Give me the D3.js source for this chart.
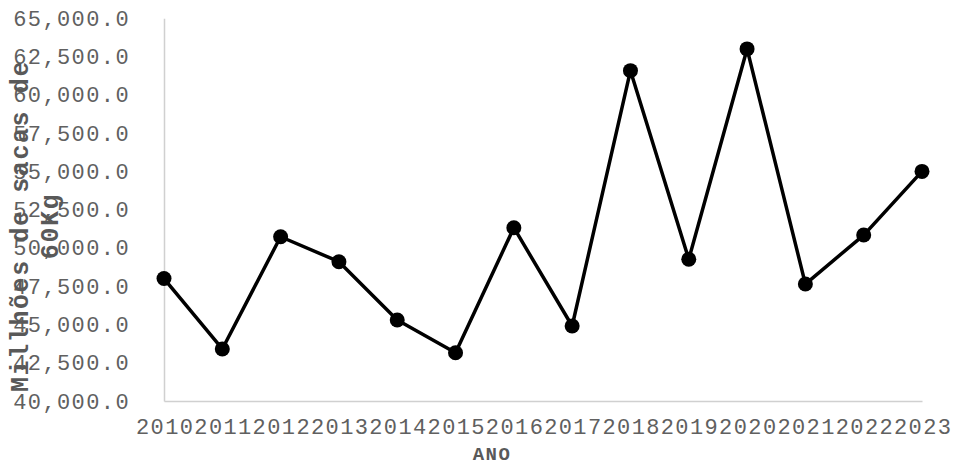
<!DOCTYPE html>
<html>
<head>
<meta charset="utf-8">
<script src="https://cdn.jsdelivr.net/npm/d3@7/dist/d3.min.js"></script>
<style>
  html, body { margin: 0; padding: 0; background: #fff; }
  svg { display: block; }
</style>
</head>
<body>
<svg id="chart" width="953" height="465"></svg>
<script>
const years = ["2010","2011","2012","2013","2014","2015","2016","2017","2018","2019","2020","2021","2022","2023"];
const production = [48000, 43400, 50730, 49100, 45290, 43150, 51320, 44900, 61580, 49260, 63000, 47640, 50840, 55000];
const yTicks = [40000, 42500, 45000, 47500, 50000, 52500, 55000, 57500, 60000, 62500, 65000];
const yTitleLines = ["Millhões de sacas de", "60Kg"];
const xTitle = "ANO";

(function () {
const svg = d3.select("#chart");
const mLeft = 164, mRight = 922, mTop = 18.3, mBottom = 401;

const x = d3.scalePoint().domain(years).range([mLeft, mRight]);
const y = d3.scaleLinear().domain([40000, 65000]).range([mBottom, mTop]);
const fmt = d3.format(",.1f");
const mono = "'Liberation Mono', 'Courier New', monospace";

// Y axis
const yAxis = svg.append("g")
  .attr("transform", `translate(${mLeft},0)`)
  .call(d3.axisLeft(y).tickValues(yTicks).tickFormat(fmt).tickSize(0).tickPadding(34));
yAxis.select(".domain").attr("stroke", "#d0d0d0").attr("stroke-width", 1.5);
yAxis.selectAll("text")
  .attr("fill", "#606060")
  .style("font-family", mono)
  .style("font-size", "22px")
  .style("letter-spacing", "1.4px")
  .attr("dy", "0.32em");

// X axis
const xAxis = svg.append("g")
  .attr("transform", `translate(0,${mBottom})`)
  .call(d3.axisBottom(x).tickSize(0).tickPadding(0));
xAxis.select(".domain").attr("stroke", "#d0d0d0").attr("stroke-width", 1.5);
xAxis.selectAll("text")
  .attr("fill", "#606060")
  .attr("y", 33)
  .attr("dy", 0)
  .attr("dx", "0.7px")
  .style("font-family", mono)
  .style("font-size", "22px")
  .style("letter-spacing", "1.4px");

// Line
const line = d3.line()
  .x((d, i) => x(years[i]))
  .y(d => y(d));
svg.append("path")
  .datum(production)
  .attr("fill", "none")
  .attr("stroke", "#000")
  .attr("stroke-width", 3.5)
  .attr("stroke-linejoin", "round")
  .attr("d", line);

svg.append("g").selectAll("circle")
  .data(production)
  .join("circle")
  .attr("cx", (d, i) => x(years[i]))
  .attr("cy", d => y(d))
  .attr("r", 7.5)
  .attr("fill", "#000");

// Y title
const yt = svg.append("text")
  .attr("transform", "translate(28,226) rotate(-90)")
  .attr("text-anchor", "middle")
  .attr("fill", "#595959")
  .style("font-family", mono)
  .style("font-weight", "bold")
  .style("font-size", "25px")
  .style("letter-spacing", "1.6px");
yt.selectAll("tspan")
  .data(yTitleLines)
  .join("tspan")
  .attr("x", 0)
  .attr("y", (d, i) => i * 30)
  .text(d => d);

// X title
svg.append("text")
  .attr("x", 492)
  .attr("y", 459.5)
  .attr("text-anchor", "middle")
  .attr("fill", "#595959")
  .style("font-family", mono)
  .style("font-weight", "bold")
  .style("font-size", "19px")
  .style("letter-spacing", "1.4px")
  .text(xTitle);
})();
</script>
</body>
</html>
